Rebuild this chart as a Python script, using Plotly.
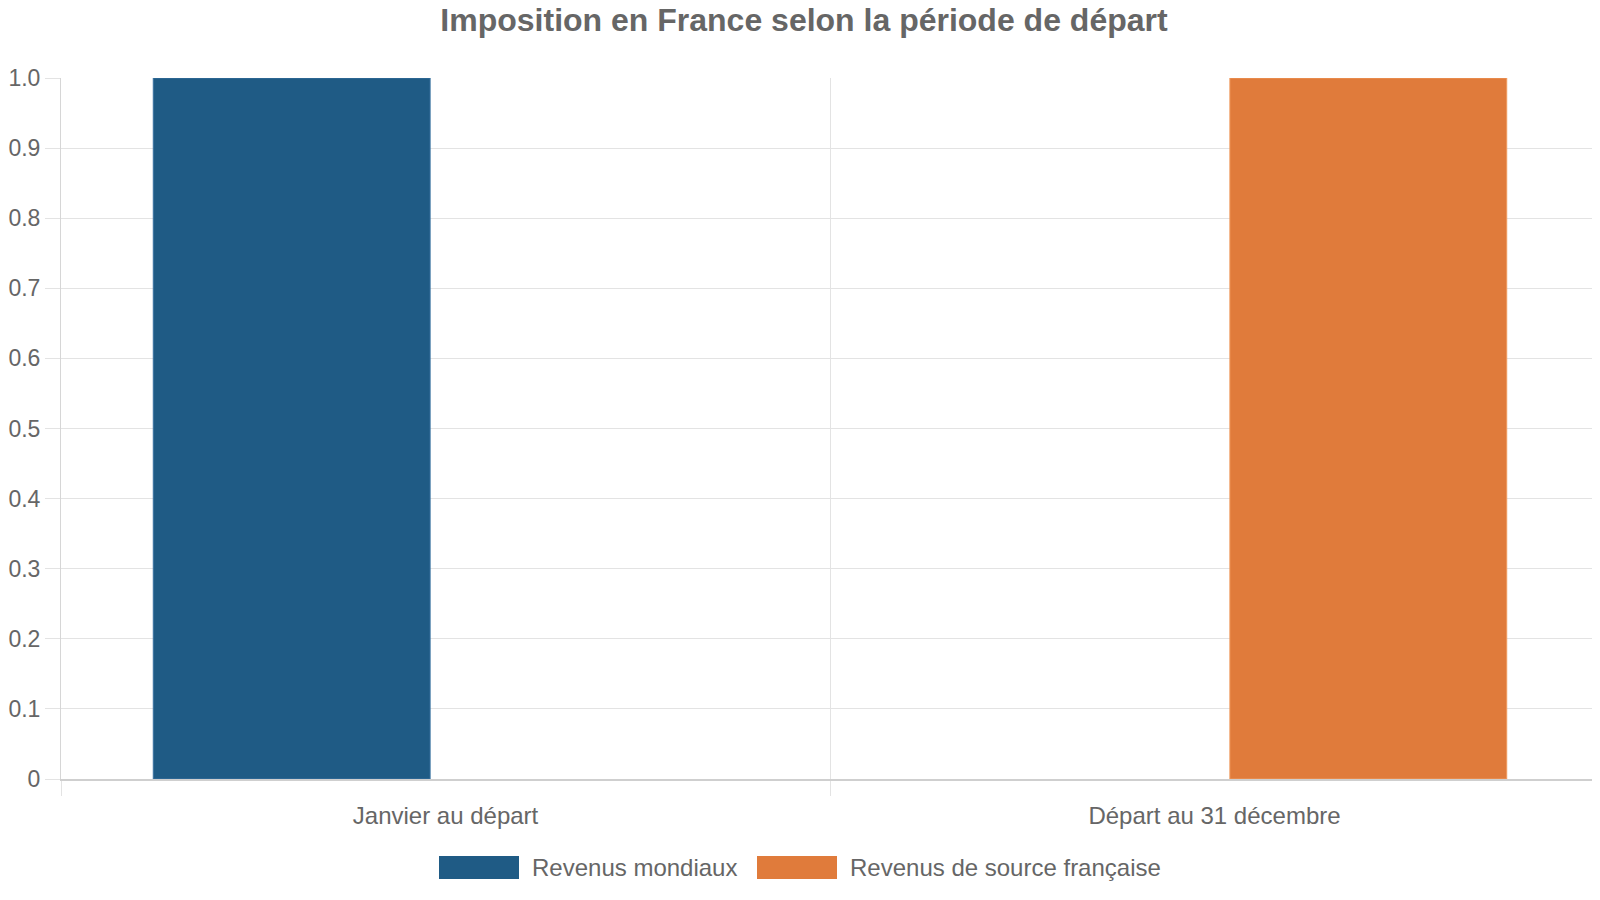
import plotly.graph_objects as go

# ---- data ----
categories = ["Janvier au départ", "Départ au 31 décembre"]
series_names = ["Revenus mondiaux", "Revenus de source française"]
mondiaux = [1, 0]
source_fr = [0, 1]
series_values = [mondiaux, source_fr]
y_ticks = [0, 0.1, 0.2, 0.3, 0.4, 0.5, 0.6, 0.7, 0.8, 0.9, 1.0]
y_tick_text = ["0", "0.1", "0.2", "0.3", "0.4", "0.5", "0.6", "0.7", "0.8", "0.9", "1.0"]

colors = ["#1f5b85", "#e07b3b"]
edge_colors = ["#3a73a0", "#ef9a5e"]
FONT = "Liberation Sans, Arial, sans-serif"
GREY = "#666666"

# the page body has an 8px margin, so shrink the figure to land where the original sits
OFF = 8
W, H = 1600 - OFF, 900 - OFF
L, R, T, B = 61 - OFF, 1, 78 - OFF, 900 - 779

fig = go.Figure()
for name, vals, c, ec in zip(series_names, series_values, colors, edge_colors):
    fig.add_trace(go.Bar(
        x=categories, y=vals, name=name,
        marker=dict(color=c, line=dict(color=ec, width=[1 if v else 0 for v in vals])),
        showlegend=False,
    ))

fig.update_layout(
    width=W, height=H,
    margin=dict(l=L, r=R, t=T, b=B, autoexpand=False),
    paper_bgcolor="white", plot_bgcolor="white",
    barmode="group", bargap=0.2, bargroupgap=0.1,
    font=dict(family=FONT, size=24, color=GREY),
    title=dict(
        text="<b>Imposition en France selon la période de départ</b>",
        x=0.5, xanchor="center", y=1 - (20 - OFF) / H, yanchor="middle",
        font=dict(family=FONT, size=32, color=GREY),
    ),
)

fig.update_xaxes(
    type="category", tickson="boundaries", range=[-0.5, 1.5],
    showgrid=True, gridcolor="#e3e3e3", gridwidth=1,
    ticks="outside", ticklen=15, tickcolor="#e3e3e3",
    showline=True, linecolor="#cfcfcf", linewidth=2,
    ticklabelstandoff=14, automargin=False,
    tickfont=dict(size=24, color=GREY),
)
fig.update_yaxes(
    range=[0, 1], tickvals=y_ticks, ticktext=y_tick_text,
    showgrid=True, gridcolor="#e3e3e3", gridwidth=1,
    ticks="outside", ticklen=15, tickcolor="#e3e3e3",
    showline=True, linecolor="#d6d6d6", linewidth=1,
    zeroline=False, automargin=False, ticklabelstandoff=0,
    tickfont=dict(size=23, color=GREY),
)

# ---- custom legend (wide colour boxes like the original) ----
pw = W - L - R
ph = H - T - B


def px_x(x):
    return (x - OFF - L) / pw


def px_y(y):
    return (H - B - (y - OFF)) / ph


legend_boxes = [439, 757]
for x0, name, c in zip(legend_boxes, series_names, colors):
    fig.add_shape(
        type="rect", xref="paper", yref="paper",
        x0=px_x(x0), x1=px_x(x0 + 80), y0=px_y(879), y1=px_y(856),
        fillcolor=c, line=dict(width=0),
    )
    fig.add_annotation(
        xref="paper", yref="paper", x=px_x(x0 + 91), y=px_y(867.5),
        text=name, showarrow=False, xanchor="left", yanchor="middle",
        font=dict(family=FONT, size=24, color=GREY),
    )

fig.write_html("out.html")
